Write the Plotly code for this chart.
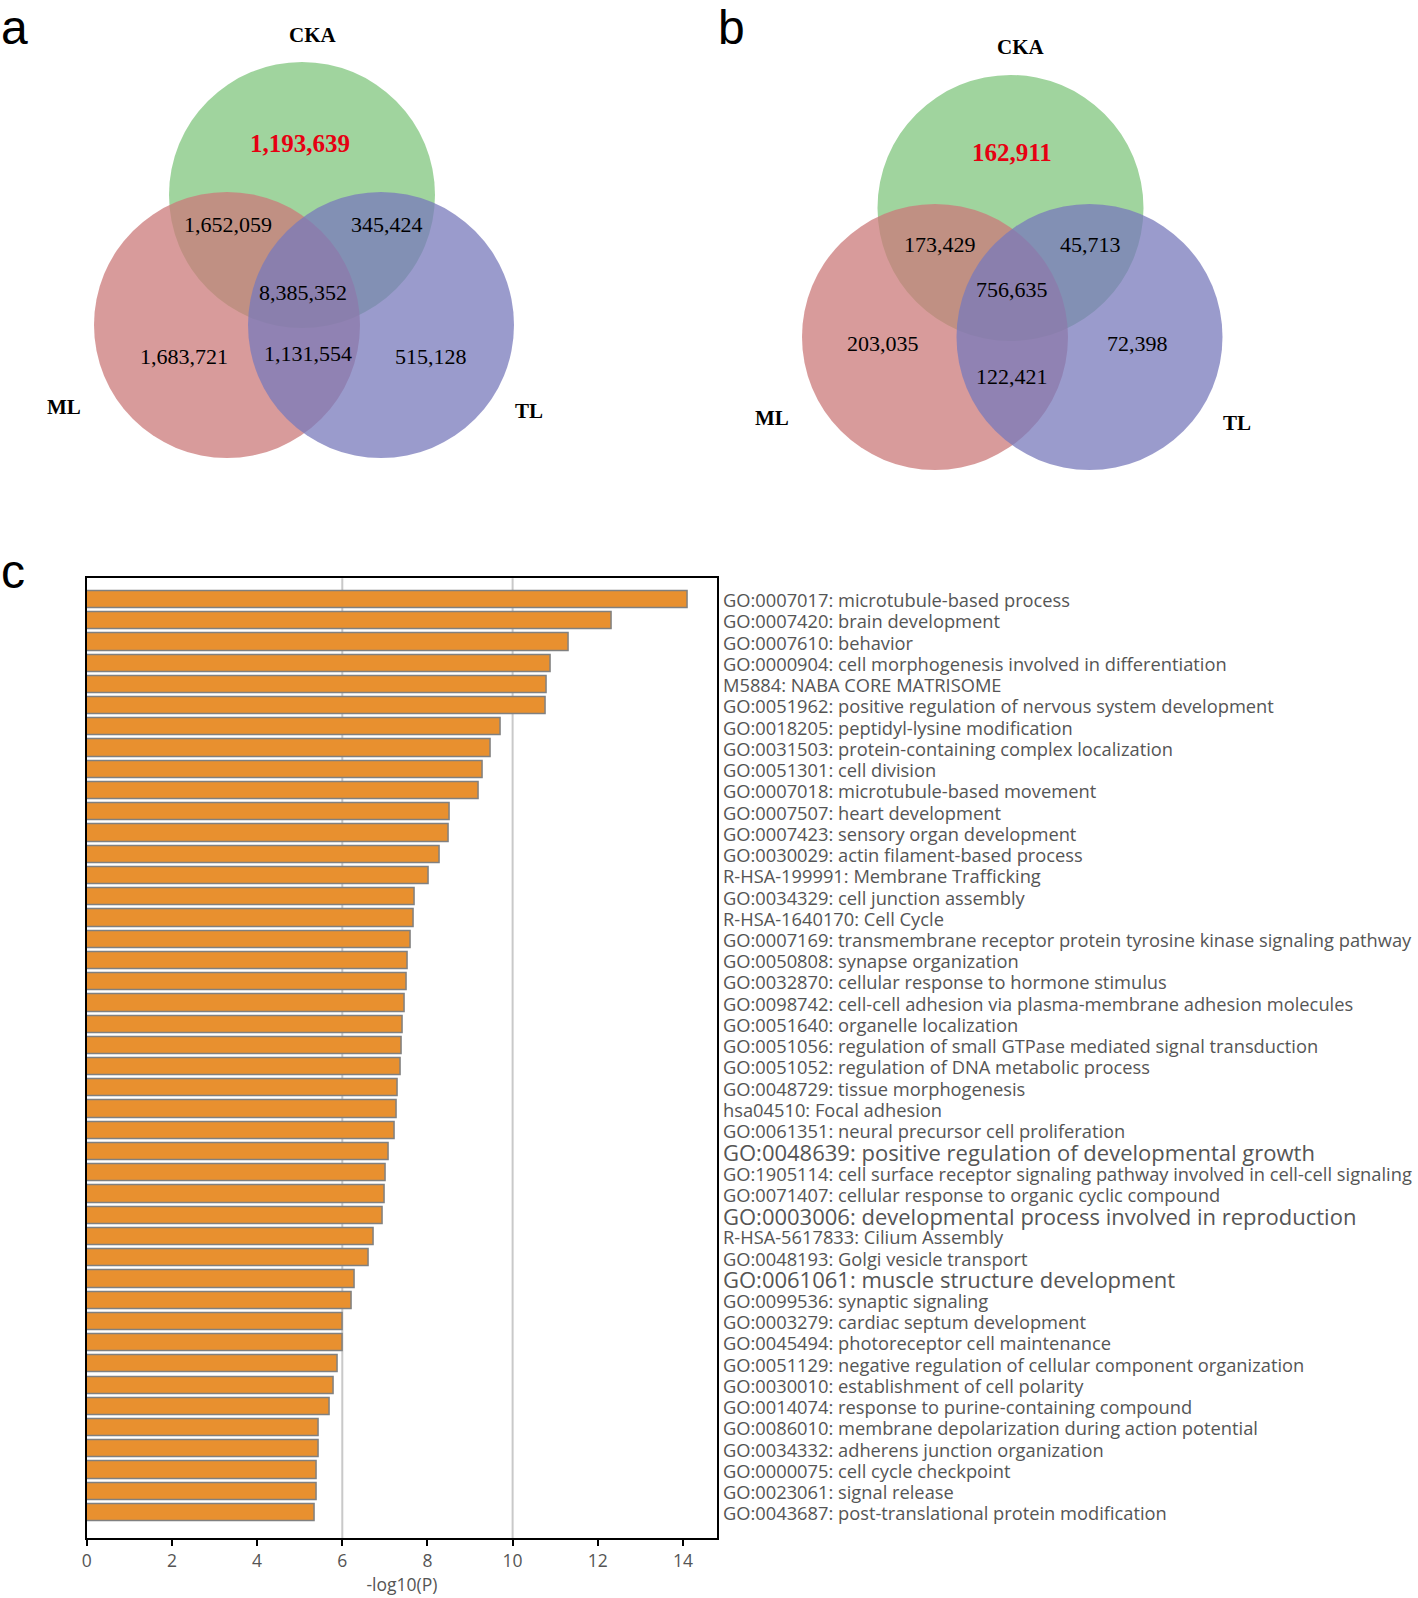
import plotly.graph_objects as go

# ---------------- DATA ----------------
venn_sets = ["CKA", "ML", "TL"]
venn_regions = ["CKA only", "CKA&ML", "CKA&TL", "CKA&ML&TL", "ML only", "ML&TL", "TL only"]
venn_a_values = [1193639, 1652059, 345424, 8385352, 1683721, 1131554, 515128]
venn_b_values = [162911, 173429, 45713, 756635, 203035, 122421, 72398]

go_terms = [
    "GO:0007017: microtubule-based process",
    "GO:0007420: brain development",
    "GO:0007610: behavior",
    "GO:0000904: cell morphogenesis involved in differentiation",
    "M5884: NABA CORE MATRISOME",
    "GO:0051962: positive regulation of nervous system development",
    "GO:0018205: peptidyl-lysine modification",
    "GO:0031503: protein-containing complex localization",
    "GO:0051301: cell division",
    "GO:0007018: microtubule-based movement",
    "GO:0007507: heart development",
    "GO:0007423: sensory organ development",
    "GO:0030029: actin filament-based process",
    "R-HSA-199991: Membrane Trafficking",
    "GO:0034329: cell junction assembly",
    "R-HSA-1640170: Cell Cycle",
    "GO:0007169: transmembrane receptor protein tyrosine kinase signaling pathway",
    "GO:0050808: synapse organization",
    "GO:0032870: cellular response to hormone stimulus",
    "GO:0098742: cell-cell adhesion via plasma-membrane adhesion molecules",
    "GO:0051640: organelle localization",
    "GO:0051056: regulation of small GTPase mediated signal transduction",
    "GO:0051052: regulation of DNA metabolic process",
    "GO:0048729: tissue morphogenesis",
    "hsa04510: Focal adhesion",
    "GO:0061351: neural precursor cell proliferation",
    "GO:0048639: positive regulation of developmental growth",
    "GO:1905114: cell surface receptor signaling pathway involved in cell-cell signaling",
    "GO:0071407: cellular response to organic cyclic compound",
    "GO:0003006: developmental process involved in reproduction",
    "R-HSA-5617833: Cilium Assembly",
    "GO:0048193: Golgi vesicle transport",
    "GO:0061061: muscle structure development",
    "GO:0099536: synaptic signaling",
    "GO:0003279: cardiac septum development",
    "GO:0045494: photoreceptor cell maintenance",
    "GO:0051129: negative regulation of cellular component organization",
    "GO:0030010: establishment of cell polarity",
    "GO:0014074: response to purine-containing compound",
    "GO:0086010: membrane depolarization during action potential",
    "GO:0034332: adherens junction organization",
    "GO:0000075: cell cycle checkpoint",
    "GO:0023061: signal release",
    "GO:0043687: post-translational protein modification",
]
neg_log10_p = [
    14.12, 12.33, 11.31, 10.89, 10.81, 10.78, 9.73, 9.49, 9.29, 9.21,
    8.52, 8.50, 8.30, 8.03, 7.70, 7.67, 7.62, 7.55, 7.52, 7.47,
    7.43, 7.40, 7.38, 7.31, 7.28, 7.24, 7.09, 7.02, 7.00, 6.95,
    6.73, 6.63, 6.30, 6.22, 6.02, 6.02, 5.90, 5.81, 5.71, 5.44,
    5.44, 5.41, 5.41, 5.35,
]
x_ticks = [0, 2, 4, 6, 8, 10, 12, 14]
x_title = "-log10(P)"

# ---------------- LAYOUT (pixels) ----------------
W, H = 1418, 1598
emphasized = {"GO:0048639", "GO:0003006", "GO:0061061"}


def px(x, y):
    return x / W, 1 - y / H


fig = go.Figure()

rows = list(range(len(go_terms)))
fig.add_trace(go.Bar(
    x=neg_log10_p, y=rows, orientation="h", width=0.81,
    marker=dict(color="#E8902F", line=dict(color="#808080", width=1.5)),
    hoverinfo="x", showlegend=False,
))

x0d, x1d = 86.8 / W, 717 / W
y0d, y1d = 1 - 1538.3 / H, 1 - 578.3 / H

annotations = []
shapes = []

# grid lines at 6 and 10
for gx in (6, 10):
    shapes.append(dict(type="line", xref="x", yref="y domain", x0=gx, x1=gx, y0=0, y1=1,
                       line=dict(color="#c9c9c9", width=2), layer="below"))

# category labels
label_x = 721 / W
for i, term in enumerate(go_terms):
    key = term.split(": ")[0]
    annotations.append(dict(
        x=label_x, y=i, xref="paper", yref="y", xanchor="left", yanchor="middle",
        text=term, showarrow=False,
        font=dict(family="Open Sans", size=22 if key in emphasized else 18.3, color="#555555"),
    ))

# ---------------- VENN ----------------
R = 133
venn_colors = {
    "CKA": "rgba(128,198,126,0.75)",
    "ML": "rgba(203,122,122,0.75)",
    "TL": "rgba(120,122,187,0.75)",
}
venn_panels = [
    dict(values=venn_a_values,
         centers={"CKA": (302, 195), "ML": (227, 325), "TL": (381, 325)},
         set_label_pos={"CKA": (313, 35), "ML": (64, 407), "TL": (529, 411)},
         region_pos=[(300, 144), (228, 224), (387, 224), (303, 292), (184, 357), (308, 353), (431, 357)]),
    dict(values=venn_b_values,
         centers={"CKA": (1010.5, 208), "ML": (935, 337), "TL": (1089.5, 337)},
         set_label_pos={"CKA": (1021, 47), "ML": (772, 418), "TL": (1237, 423)},
         region_pos=[(1012, 152), (940, 245), (1090, 245), (1012, 289), (883, 343), (1012, 376), (1137, 343)]),
]
for panel in venn_panels:
    for s in venn_sets:
        cx, cy = panel["centers"][s]
        xa, ya = px(cx - R, cy + R)
        xb, yb = px(cx + R, cy - R)
        shapes.append(dict(type="circle", xref="paper", yref="paper",
                           x0=xa, x1=xb, y0=ya, y1=yb,
                           fillcolor=venn_colors[s], line=dict(width=0), layer="above"))
    for s in venn_sets:
        lx, ly = px(*panel["set_label_pos"][s])
        annotations.append(dict(x=lx, y=ly, xref="paper", yref="paper", showarrow=False,
                                xanchor="center", yanchor="middle", text=f"<b>{s}</b>",
                                font=dict(family="Liberation Serif", size=21, color="black")))
    for k, (reg, val) in enumerate(zip(venn_regions, panel["values"])):
        lx, ly = px(*panel["region_pos"][k])
        if reg == "CKA only":
            txt, fnt = f"<b>{val:,}</b>", dict(family="Liberation Serif", size=25, color="#E60012")
        else:
            txt, fnt = f"{val:,}", dict(family="Liberation Serif", size=22, color="black")
        annotations.append(dict(x=lx, y=ly, xref="paper", yref="paper", showarrow=False,
                                xanchor="center", yanchor="middle", text=txt, font=fnt))

# panel letters
for letter, (lx, ly, anchor) in zip(["a", "b", "c"], [(0, 0, "top"), (717, 0, "top"), (0, 571, "middle")]):
    xx, yy = px(lx, ly)
    annotations.append(dict(x=xx, y=yy, xref="paper", yref="paper", showarrow=False,
                            xanchor="left", yanchor=anchor, text=letter, borderpad=0,
                            font=dict(family="Liberation Sans", size=48, color="black")))

fig.update_layout(
    width=W, height=H, margin=dict(l=0, r=0, t=0, b=0),
    paper_bgcolor="white", plot_bgcolor="white",
    bargap=0, showlegend=False,
    xaxis=dict(domain=[x0d, x1d], range=[0, 14.8], tickvals=x_ticks, ticks="outside",
               ticklen=6, tickwidth=1.5, tickcolor="black", showline=True, linecolor="black",
               linewidth=1.5, mirror=True, showgrid=False, zeroline=False,
               tickfont=dict(family="Open Sans", size=17.5, color="#555555"),
               title=dict(text=x_title, standoff=1, font=dict(family="Open Sans", size=17.5, color="#555555")),
               automargin=False, fixedrange=True),
    yaxis=dict(domain=[y0d, y1d], range=[44.2, -1.01], showticklabels=False, ticks="",
               showline=True, linecolor="black", linewidth=2, mirror=True,
               showgrid=False, zeroline=False, automargin=False, fixedrange=True),
    shapes=shapes, annotations=annotations,
)

fig.write_html("out.html", config={"displayModeBar": False},
               post_script="document.body.style.margin='0';document.body.style.overflow='hidden';")
